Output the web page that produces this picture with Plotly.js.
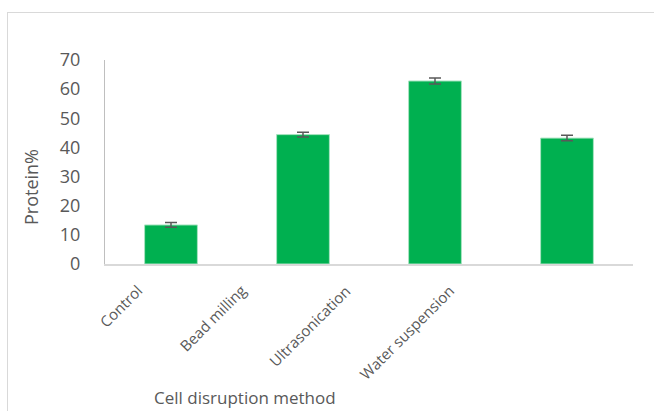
<!DOCTYPE html>
<html>
<head>
<meta charset="utf-8">
<script src="https://cdn.plot.ly/plotly-3.0.1.min.js"></script>
<style>
  html, body { margin: 0; padding: 0; background: #ffffff; overflow: hidden; }
  #frame { position: absolute; left: 7px; top: 12px; width: 700px; height: 450px; border: 1px solid #d9d9d9; }
  #chart { position: absolute; left: 0; top: 0; width: 654px; height: 411px; }
</style>
</head>
<body>
<div id="frame"></div>
<div id="chart"></div>
<script>
const categories = ["Control", "Bead milling", "Ultrasonication", "Water suspension"];
const proteinValues = [13.4, 44.4, 62.8, 43.2];
const proteinErrors = [0.8, 0.85, 1.0, 0.95];
const yTickValues = [0, 10, 20, 30, 40, 50, 60, 70];
const xTitle = "Cell disruption method";
const yTitle = "Protein%";

const trace = {
  type: "bar",
  x: categories,
  y: proteinValues,
  marker: { color: "#00B050", line: { color: "#a9e4c2", width: 1 } },
  error_y: { type: "data", array: proteinErrors, visible: true, color: "#595959", thickness: 1.5, width: 6 },
  hoverinfo: "x+y"
};

const labelFont = { family: "Open Sans, sans-serif", size: 15, color: "#595959" };
const categoryLabels = categories.map((c, i) => ({
  text: c, x: c, y: 0, xref: "x", yref: "y",
  textangle: -45, xanchor: "right", yanchor: "top",
  xshift: -28 * (i + 1) + 6, yshift: -14,
  showarrow: false, font: labelFont
}));

const layout = {
  width: 654,
  height: 411,
  margin: { l: 105, r: 21, t: 60, b: 147 },
  paper_bgcolor: "rgba(0,0,0,0)",
  plot_bgcolor: "rgba(0,0,0,0)",
  bargap: 0.6,
  showlegend: false,
  font: { family: "Open Sans, sans-serif", color: "#595959" },
  xaxis: {
    type: "category", range: [-0.5, categories.length - 0.5], autorange: false,
    showline: true, linecolor: "#d9d9d9", linewidth: 1.5,
    showgrid: false, ticks: "", showticklabels: false
  },
  yaxis: {
    range: [0, 70], autorange: false, tickvals: yTickValues,
    showline: true, linecolor: "#bfbfbf", linewidth: 1,
    showgrid: false, zeroline: false, ticks: "",
    ticklabelstandoff: 20,
    tickfont: { size: 18, color: "#595959" }
  },
  annotations: categoryLabels.concat([
    {
      text: xTitle, xref: "paper", yref: "paper",
      x: (245 - 105) / 528, y: -(397 - 264) / 204, xanchor: "center", yanchor: "middle",
      showarrow: false, font: { size: 17, color: "#595959" }
    },
    {
      text: yTitle, xref: "paper", yref: "paper", textangle: -90,
      x: -(105 - 31) / 528, y: (264 - 187) / 204, xanchor: "center", yanchor: "middle",
      showarrow: false, font: { size: 18, color: "#595959" }
    }
  ])
};

Plotly.newPlot("chart", [trace], layout, { displayModeBar: false, staticPlot: true });
</script>
</body>
</html>
